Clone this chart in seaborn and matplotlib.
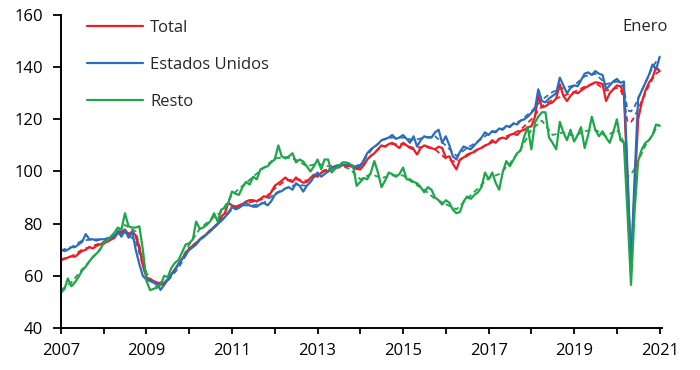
import pandas as pd
import numpy as np
import matplotlib
matplotlib.use('Agg')
import matplotlib.pyplot as plt
import matplotlib.dates as mdates
from matplotlib.ticker import FuncFormatter
import seaborn as sns

# monthly index values, 2007-01 .. 2021-01
total = [
    66, 66.5, 67, 67.5, 67.3, 68.5, 69.5, 70, 71, 70.5, 71.5, 72,            # 2007
    72.7, 73, 73.8, 74.5, 76.5, 77, 77.7, 75.8, 77, 75.5, 71, 64,             # 2008
    59.5, 58.5, 58, 57.5, 56.5, 57, 58.5, 60.5, 62.5, 64.5, 66.5, 68.5,       # 2009
    70.5, 71.5, 72.5, 74, 75, 76, 77.5, 78.5, 80, 82.7, 84, 88,               # 2010
    87, 86.5, 87, 87.5, 88.5, 89, 89, 88.5, 89.5, 90.5, 90, 92,               # 2011
    94.5, 95.5, 96.5, 97.7, 96.5, 96, 97.7, 96.5, 95.7, 96, 97.5, 98.8,       # 2012
    98, 99.5, 100.5, 100, 101.5, 102, 101.5, 102.7, 102, 102.5, 101.5, 101,   # 2013
    100.8, 102.5, 104.6, 106, 107, 108.5, 110, 109.5, 110.5, 111, 110, 109,   # 2014
    111, 110, 109, 108.5, 106.5, 109, 110, 109.5, 109, 108.5, 109.5, 109,     # 2015
    105.4, 105.8, 103, 100.8, 104.5, 105.4, 106, 107, 107.5, 108.5, 109, 110, # 2016
    110.5, 112, 111, 112.5, 113, 112.5, 114, 114.5, 114, 115.5, 116, 117,     # 2017
    117.3, 121, 129, 124.6, 125, 126, 126.5, 128, 133.5, 129, 127, 129,       # 2018
    130.4, 130, 131, 132, 132.7, 133.5, 134.2, 134, 133.5, 127, 130, 131.5,   # 2019
    133, 132.7, 130, 97, 63, 93, 120, 126.5, 131, 134, 136, 140,              # 2020
    138.5,                                                                    # 2021
]
eeuu = [
    70, 69.5, 70, 71, 71, 72, 73, 76, 74, 74, 73.5, 74,
    74, 74, 74.5, 75, 77, 75, 77.7, 74.6, 77, 70, 64.5, 60,
    58.5, 58, 57.5, 57, 54.6, 56.5, 58.5, 60.5, 62.3, 64.5, 66.5, 68,
    70, 71, 72, 73.8, 75, 76, 77.5, 78.5, 80, 81, 82.5, 84,
    86.5, 85.5, 86, 87, 88, 87, 86.5, 86.5, 87.5, 88, 87, 88.5,
    91, 92, 92.5, 93.5, 94, 93, 95.5, 94.5, 92.3, 94.5, 96, 98,
    99.6, 98, 99, 100, 101, 102, 102, 102.5, 102.7, 102.5, 102, 102,
    102, 104.5, 107, 108.5, 109.5, 110.5, 112, 112.5, 113, 114, 112.5, 113,
    114, 112.5, 111, 113.5, 109.6, 112, 113.5, 113, 113, 115, 116, 111,
    113.5, 110, 105.8, 104.6, 107.5, 109.6, 109, 108.5, 110, 111.5, 113, 115,
    114, 115.5, 115, 116.5, 116, 117.5, 117, 118.5, 118, 119.5, 120, 121,
    122.5, 124, 131.5, 127, 126.5, 128, 129, 130, 136, 133, 130, 132,
    133, 132.7, 135, 137.5, 138, 137, 138.5, 137.5, 137, 131.5, 133, 134.5,
    135.5, 134, 134.5, 100, 64, 98, 128, 131, 134, 137, 141, 139,
    144,
]
resto = [
    53.5, 55, 59, 56, 57.5, 59.6, 62, 63.5, 65.5, 67.3, 68.5, 70,
    72.5, 73.5, 75, 76.5, 78.5, 77.7, 84, 79, 78.5, 78.5, 79, 70,
    58, 54.5, 55, 55.5, 56.5, 60, 59.5, 63, 65, 66, 69, 72,
    72.5, 74, 80.8, 78, 78.5, 79.6, 81, 84, 80.8, 85.4, 86, 88,
    92.3, 91.5, 91, 94, 96, 95, 98, 97, 100.8, 101.5, 102, 103.5,
    104.6, 110, 105.8, 105, 105.8, 107, 103.5, 104.6, 103.8, 102, 100, 102,
    104.6, 100.8, 104.6, 104.6, 99.6, 101, 102, 103.5, 103.5, 103, 102, 94.5,
    96, 97.5, 97, 99.6, 104, 99.6, 94, 96.5, 99.6, 99, 98, 99,
    101.5, 97, 97, 96, 95.5, 94, 92, 94, 93, 90, 89, 87.3,
    89, 88, 85.4, 84, 84.5, 88.5, 90.4, 89.5, 91, 92, 94, 99.6,
    97, 99.6, 95.8, 93, 99.6, 104, 102, 104.5, 107, 108, 113.5, 117,
    108.5, 118.8, 121, 122.7, 122.7, 113, 111, 108.5, 119, 115, 112, 116,
    111.5, 114, 117, 109, 114, 121, 116, 113.5, 115.4, 113, 111, 115,
    120, 112, 111, 84, 56.5, 85, 104, 108.5, 111, 112, 114, 118,
    117.5,
]

# trend (dashed): quarterly 2007-01 .. 2020-01, then monthly 2020-02 .. 2021-01
total_tend = [
    66.3, 67.5, 70, 71.5, 73, 75.5, 77, 75, 60, 57, 58.5, 64.5,
    70.5, 74, 77.5, 81.5, 86, 87.5, 88.5, 89.5, 93.5, 96.5, 97, 96.5,
    98.5, 101, 102.3, 102, 101.5, 106, 109.5, 110.5, 110.5, 109, 109.5, 108.5,
    105, 103.5, 106.5, 108.5, 110.5, 112.5, 114, 116, 120, 125, 127.5, 129,
    130.5, 132.5, 134, 131, 132,
    131.5, 128, 119, 119, 121, 124, 127, 130, 133, 135.5, 137.5, 138.5,
]
eeuu_tend = [
    69.8, 71, 73.5, 74, 74, 75.5, 76.5, 73.5, 59, 56.5, 58, 63,
    70, 73.5, 77, 81, 85.5, 87, 87, 88, 91.5, 93.5, 95, 94.5,
    99, 101, 102.5, 102.3, 102.5, 108, 112, 113, 113, 112, 113, 113.5,
    110, 106, 109, 111.5, 114.5, 116, 117.5, 119.5, 123, 127.5, 130.5, 132,
    133, 136.5, 137.5, 133.5, 134.5,
    134, 132, 123.5, 123, 125, 128, 131, 134, 137, 140, 142, 143.5,
]
resto_tend = [
    54.5, 57.5, 62.5, 67, 72, 76, 79.5, 77, 61, 55.5, 58.5, 64,
    72, 78, 81.5, 84.5, 91, 94.5, 98, 101.5, 105, 105.5, 104.5, 102,
    103, 102, 102.5, 101, 97, 99, 97.5, 98.5, 98.5, 95.5, 93, 89.5,
    87.5, 85.5, 89.5, 93.5, 97.5, 99, 103, 108.5, 116, 119.5, 114, 115,
    113.5, 115.5, 116, 113.5, 116,
    114, 111, 98, 99, 101, 104, 107, 110, 112, 114, 116.5, 118,
]

series = ['Total', 'Estados Unidos', 'Resto']
colores = {'Total': '#ee1c25', 'Estados Unidos': '#2a6ebb', 'Resto': '#1fa64a'}

fechas = pd.date_range('2007-01-01', '2021-01-01', freq='MS')
fechas_tend = pd.date_range('2007-01-01', '2020-01-01', freq='QS').append(
    pd.date_range('2020-02-01', '2021-01-01', freq='MS'))

df = pd.concat([pd.DataFrame({'fecha': fechas, 'valor': v, 'serie': s})
                for s, v in zip(series, [total, eeuu, resto])])
df_t = pd.concat([pd.DataFrame({'fecha': fechas_tend, 'valor': v, 'serie': s})
                  for s, v in zip(series, [total_tend, eeuu_tend, resto_tend])])

sns.set_style('ticks')
plt.rcParams['font.family'] = ['Open Sans', 'DejaVu Sans']

fig = plt.figure(figsize=(7, 3.7), dpi=100)
ax = fig.add_axes([0.087, 0.1135, 0.8586, 0.846])

sns.lineplot(data=df_t, x='fecha', y='valor', hue='serie', hue_order=series,
             palette=colores, linewidth=1.3, linestyle=(0, (3, 2)),
             legend=False, ax=ax)
sns.lineplot(data=df, x='fecha', y='valor', hue='serie', hue_order=series,
             palette=colores, linewidth=1.6, ax=ax)

ax.set_ylim(40, 160)
ax.set_yticks(range(40, 161, 20))
ax.set_xlim(pd.Timestamp('2007-01-01'), pd.Timestamp('2021-01-20'))
ax.xaxis.set_major_locator(mdates.YearLocator(1))
ax.xaxis.set_major_formatter(FuncFormatter(
    lambda x, pos: str(mdates.num2date(x).year) if mdates.num2date(x).year % 2 == 1 else ''))
ax.set_xlabel('')
ax.set_ylabel('')

sns.despine(ax=ax)
for sp in ['left', 'bottom']:
    ax.spines[sp].set_linewidth(1.4)
    ax.spines[sp].set_color('black')
ax.tick_params(axis='y', direction='out', length=6, width=1.3, pad=7, labelsize=12, colors='black')
ax.tick_params(axis='x', direction='out', length=4, width=1.3, pad=7, labelsize=12, colors='black')

h, l = ax.get_legend_handles_labels()
ax.legend(h, l, loc='upper left', bbox_to_anchor=(0.043, 0.984), frameon=False,
          fontsize=12, handlelength=3.4, handletextpad=0.4, labelspacing=1.27,
          borderpad=0, borderaxespad=0)

ax.text(0.972, 0.962, 'Enero', transform=ax.transAxes, ha='center', va='center', fontsize=12)

fig.savefig('out.png', dpi=100)
